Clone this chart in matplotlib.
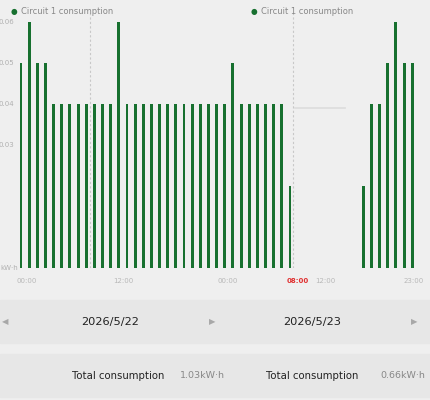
import matplotlib
matplotlib.use("Agg")
import matplotlib.pyplot as plt
from matplotlib.patches import Rectangle

# Hourly consumption (kW·h), bar slots 0..33 for day 1 -> 08:00 day 2, 42..48 for the evening
left_slots = list(range(34))
left_values = [0.05, 0.06, 0.05, 0.05] + [0.04] * 8 + [0.06] + [0.04] * 13 + [0.05] + [0.04] * 6 + [0.02]
right_slots = list(range(42, 49))
right_values = [0.02, 0.04, 0.04, 0.05, 0.06, 0.05, 0.05]

tick_pos = [0.7, 12.6, 25.4, 33.9, 37.3, 48.2]
tick_labels = ["00:00", "12:00", "00:00", "08:00", "12:00", "23:00"]
dates = ["2026/5/22", "2026/5/23"]
totals = ["1.03kW·h", "0.66kW·h"]

GREEN = "#17702f"
BG = "#efefef"
PANEL = "#e7e7e7"

fig = plt.figure(figsize=(4.3, 4.0), dpi=100, facecolor=BG)
ax = fig.add_axes([0, 0.33, 1, 0.67])
ax.set_facecolor(BG)
ax.bar(left_slots, left_values, width=0.36, color=GREEN)
ax.bar(right_slots, right_values, width=0.36, color=GREEN)
ax.set_xlim(-2.58, 50.18)
ax.set_ylim(0, 0.0654)
for s in ax.spines.values():
    s.set_visible(False)
ax.set_xticks([])
ax.set_yticks([])

# dotted guide lines
ax.axvline(8.5, color="#c8c8c8", lw=0.8, ls=(0, (2, 2)), ymax=0.95)
ax.axvline(33.4, color="#c8c8c8", lw=0.8, ls=(0, (2, 2)), ymax=0.95)
ax.plot([33.6, 39.8], [0.0391, 0.0391], color="#dcdcdc", lw=1.2)

# y labels (partly cut off at the left edge in the app)
for v in [0.06, 0.05, 0.04, 0.03]:
    ax.text(-2.75, v, f"{v:.2f}", fontsize=5, color="#b0b0b0", va="center", ha="left")
ax.text(-2.55, 0.0, "kW·h", fontsize=5, color="#b0b0b0", va="center", ha="left")

# legends
for x in [0.033, 0.59]:
    fig.text(x, 0.972, "●", fontsize=5.5, color=GREEN, va="center", ha="center")
    fig.text(x + 0.016, 0.972, "Circuit 1 consumption", fontsize=6, color="#888888", va="center")

# x tick labels
for p, lab in zip(tick_pos, tick_labels):
    red = lab == "08:00" and p > 30
    fig.text((p + 2.58) / 52.76, 1 - 281 / 400, lab, fontsize=5,
             color="#e03030" if red else "#b8b8b8", ha="center", va="center",
             fontweight="bold" if red else "normal")

# date row and totals row panels
fig.patches.append(Rectangle((0, 1 - 343 / 400), 1, 43 / 400, transform=fig.transFigure, color=PANEL, zorder=0))
fig.patches.append(Rectangle((0, 1 - 397 / 400), 1, 43 / 400, transform=fig.transFigure, color=PANEL, zorder=0))
fig.text(5 / 430, 1 - 322 / 400, "◀", fontsize=6, color="#a8a8a8", ha="center", va="center")
fig.text(212 / 430, 1 - 322 / 400, "▶", fontsize=6, color="#a8a8a8", ha="center", va="center")
fig.text(414 / 430, 1 - 322 / 400, "▶", fontsize=6, color="#a8a8a8", ha="center", va="center")
fig.text(110 / 430, 1 - 322 / 400, dates[0], fontsize=8.2, color="#222222", ha="center", va="center")
fig.text(312 / 430, 1 - 322 / 400, dates[1], fontsize=8.2, color="#222222", ha="center", va="center")

for xl, xv, val in [(164, 180, totals[0]), (358, 380, totals[1])]:
    fig.text(xl / 430, 1 - 376 / 400, "Total consumption", fontsize=7.3, color="#222222", ha="right", va="center")
    fig.text(xv / 430, 1 - 376 / 400, val, fontsize=6.8, color="#888888", ha="left", va="center")

fig.savefig("out.png", dpi=100, facecolor=BG)
